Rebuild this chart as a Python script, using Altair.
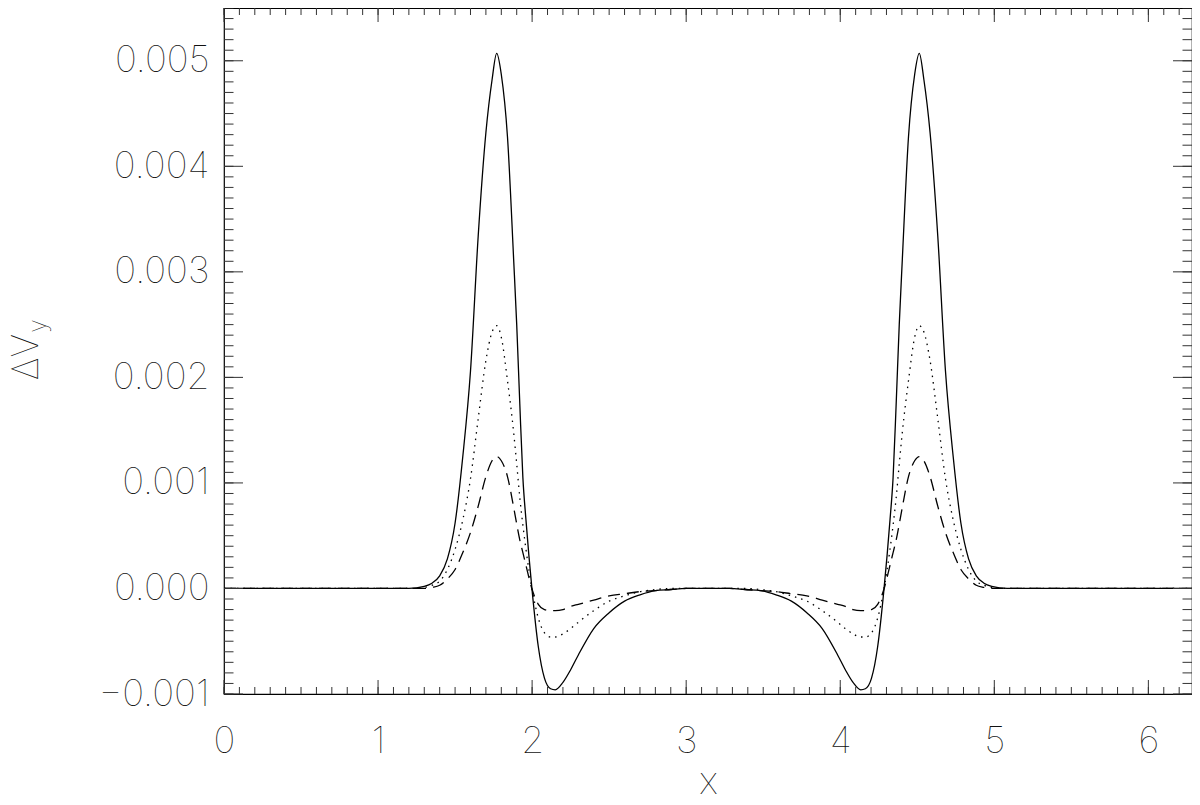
import altair as alt
import pandas as pd

# ---- data ----
x_vals = [0.0, 1.0, 1.2, 1.3, 1.35, 1.4, 1.45, 1.5, 1.55, 1.6, 1.65, 1.7, 1.74, 1.77,
          1.8, 1.84, 1.88, 1.9, 1.92, 1.94, 1.96, 2.0, 2.04, 2.08, 2.12, 2.15, 2.2,
          2.25, 2.3, 2.4, 2.5, 2.6, 2.7, 2.8, 2.9, 3.0, 3.1416,
          3.283, 3.383, 3.483, 3.583, 3.683, 3.783, 3.883, 3.983, 4.033, 4.083,
          4.133, 4.163, 4.203, 4.243, 4.283, 4.323, 4.343, 4.363, 4.383, 4.403,
          4.443, 4.483, 4.513, 4.543, 4.583, 4.633, 4.683, 4.733, 4.783, 4.833,
          4.883, 4.933, 4.983, 5.083, 5.283, 6.2832]

solid = [0.0, 0.0, 0.0, 0.00002, 0.00005, 0.00012, 0.00028, 0.00062, 0.00125, 0.00206,
         0.00334, 0.00432, 0.00482, 0.00507, 0.00487, 0.00428, 0.00312, 0.00250, 0.00175,
         0.00105, 0.00065, -0.00002, -0.00055, -0.00085, -0.00095, -0.00096, -0.00089,
         -0.00077, -0.00063, -0.00038, -0.00023, -0.00012, -0.00006, -0.00002, -0.00001,
         0.0, 0.0,
         0.0, -0.00001, -0.00002, -0.00006, -0.00012, -0.00023, -0.00038, -0.00063,
         -0.00077, -0.00089, -0.00096, -0.00095, -0.00085, -0.00055, -0.00002, 0.00065,
         0.00105, 0.00175, 0.00250, 0.00312, 0.00428, 0.00487, 0.00507, 0.00482, 0.00432,
         0.00334, 0.00206, 0.00125, 0.00062, 0.00028, 0.00012, 0.00005, 0.00002, 0.0,
         0.0, 0.0]

dotted = [0.0, 0.0, 0.0, 0.00001, 0.00003, 0.00007, 0.00018, 0.00037, 0.00065, 0.00104,
          0.00161, 0.00216, 0.00243, 0.00249, 0.00238, 0.00197, 0.00148, 0.00118, 0.00086,
          0.00060, 0.00037, -0.00001, -0.00028, -0.00042, -0.00046, -0.00046, -0.00043,
          -0.00038, -0.00032, -0.00021, -0.00012, -0.00007, -0.00003, -0.00001, 0.0,
          0.0, 0.0,
          0.0, 0.0, -0.00001, -0.00003, -0.00007, -0.00012, -0.00021, -0.00032,
          -0.00038, -0.00043, -0.00046, -0.00046, -0.00042, -0.00028, -0.00001, 0.00037,
          0.00060, 0.00086, 0.00118, 0.00148, 0.00197, 0.00238, 0.00249, 0.00243, 0.00216,
          0.00161, 0.00104, 0.00065, 0.00037, 0.00018, 0.00007, 0.00003, 0.00001, 0.0,
          0.0, 0.0]

dashed = [0.0, 0.0, 0.0, 0.0, 0.00001, 0.00003, 0.00009, 0.00018, 0.00034, 0.00053,
          0.00078, 0.00106, 0.00121, 0.00125, 0.00121, 0.00106, 0.00077, 0.00061, 0.00046,
          0.00034, 0.00022, -0.00001, -0.00015, -0.00020, -0.00021, -0.00021, -0.00020,
          -0.00017, -0.00015, -0.00011, -0.00007, -0.00005, -0.00003, -0.00002, -0.00001,
          0.0, 0.0,
          0.0, -0.00001, -0.00002, -0.00003, -0.00005, -0.00007, -0.00011, -0.00015,
          -0.00017, -0.00020, -0.00021, -0.00021, -0.00020, -0.00015, -0.00001, 0.00022,
          0.00034, 0.00046, 0.00061, 0.00077, 0.00106, 0.00121, 0.00125, 0.00121, 0.00106,
          0.00078, 0.00053, 0.00034, 0.00018, 0.00009, 0.00003, 0.00001, 0.0, 0.0,
          0.0, 0.0]

x_major = [0, 1, 2, 3, 4, 5, 6]
x_minor = [round(i * 0.1, 1) for i in range(63)]
y_major = [-0.001, 0.0, 0.001, 0.002, 0.003, 0.004, 0.005]
y_minor = [round(-0.001 + i * 0.0001, 5) for i in range(66)]

# ---- layout ----
W, H = 968, 686
FONT = "Inter"
FW = 100
FS = 37
TXT = "#111111"

xs = alt.Scale(domain=[0, 6.2832], nice=False, zero=False)
ys = alt.Scale(domain=[-0.001, 0.0055], nice=False, zero=False)

x_axis = alt.Axis(values=x_major, format="d", ticks=False, tickSize=0, domain=False,
                  grid=False, labelFont=FONT, labelFontSize=FS, labelFontWeight=FW,
                  labelColor=TXT, labelPadding=29, labelFlush=False,
                  title="x", titleFont=FONT, titleFontSize=FS, titleFontWeight=FW,
                  titleColor=TXT, titlePadding=5)
y_axis = alt.Axis(values=y_major, format=".3f", ticks=False, tickSize=0, domain=False,
                  grid=False, labelFont=FONT, labelFontSize=FS, labelFontWeight=FW,
                  labelColor=TXT, labelPadding=15, labelFlush=False, title=None)

df_s = pd.DataFrame({"x": x_vals, "v": solid})
df_d = pd.DataFrame({"x": x_vals, "v": dotted})
df_a = pd.DataFrame({"x": x_vals, "v": dashed})


def line(df, **kw):
    return alt.Chart(df).mark_line(color="black", strokeWidth=1.3,
                                   interpolate="monotone", clip=True, **kw).encode(
        x=alt.X("x:Q", scale=xs, axis=x_axis),
        y=alt.Y("v:Q", scale=ys, axis=y_axis),
    )


line_solid = line(df_s)
line_dot = line(df_d, strokeDash=[1.5, 5])
line_dash = line(df_a, strokeDash=[12, 7])

TICK = dict(color="#333333", strokeWidth=1)


def xticks(vals, length):
    d = pd.DataFrame({"x": vals})
    bottom = alt.Chart(d).mark_rule(**TICK).encode(
        x=alt.X("x:Q", scale=xs, axis=x_axis), y=alt.value(H), y2=alt.value(H - length))
    top = alt.Chart(d).mark_rule(**TICK).encode(
        x=alt.X("x:Q", scale=xs, axis=x_axis), y=alt.value(0), y2=alt.value(length))
    return [bottom, top]


def yticks(vals, length):
    d = pd.DataFrame({"v": vals})
    left = alt.Chart(d).mark_rule(**TICK).encode(
        y=alt.Y("v:Q", scale=ys, axis=y_axis), x=alt.value(0), x2=alt.value(length))
    right = alt.Chart(d).mark_rule(**TICK).encode(
        y=alt.Y("v:Q", scale=ys, axis=y_axis), x=alt.value(W), x2=alt.value(W - length))
    return [left, right]


ticks = xticks(x_minor, 7) + xticks(x_major, 14) + yticks(y_minor, 9.5) + yticks(y_major, 19)

# y-axis title: Delta V with subscript y
title_df = pd.DataFrame({"a": [0]})
t_main = alt.Chart(title_df).mark_text(text="\u0394V", angle=270, align="center",
                                       baseline="alphabetic", font=FONT, fontSize=FS,
                                       fontWeight=FW, color=TXT).encode(
    x=alt.value(-186), y=alt.value(349))
t_sub = alt.Chart(title_df).mark_text(text="y", angle=270, align="center",
                                      baseline="alphabetic", font=FONT, fontSize=25,
                                      fontWeight=FW, color=TXT).encode(
    x=alt.value(-178), y=alt.value(318))

chart = alt.layer(line_solid, line_dot, line_dash, *ticks, t_main, t_sub).properties(
    width=W, height=H,
    padding={"left": 216, "top": 0, "right": 0, "bottom": 103},
    autosize=alt.AutoSizeParams(type="none"),
).configure_view(stroke="black", strokeWidth=1.2)

chart.save("out.html", embed_options={"renderer": "svg", "actions": False})
